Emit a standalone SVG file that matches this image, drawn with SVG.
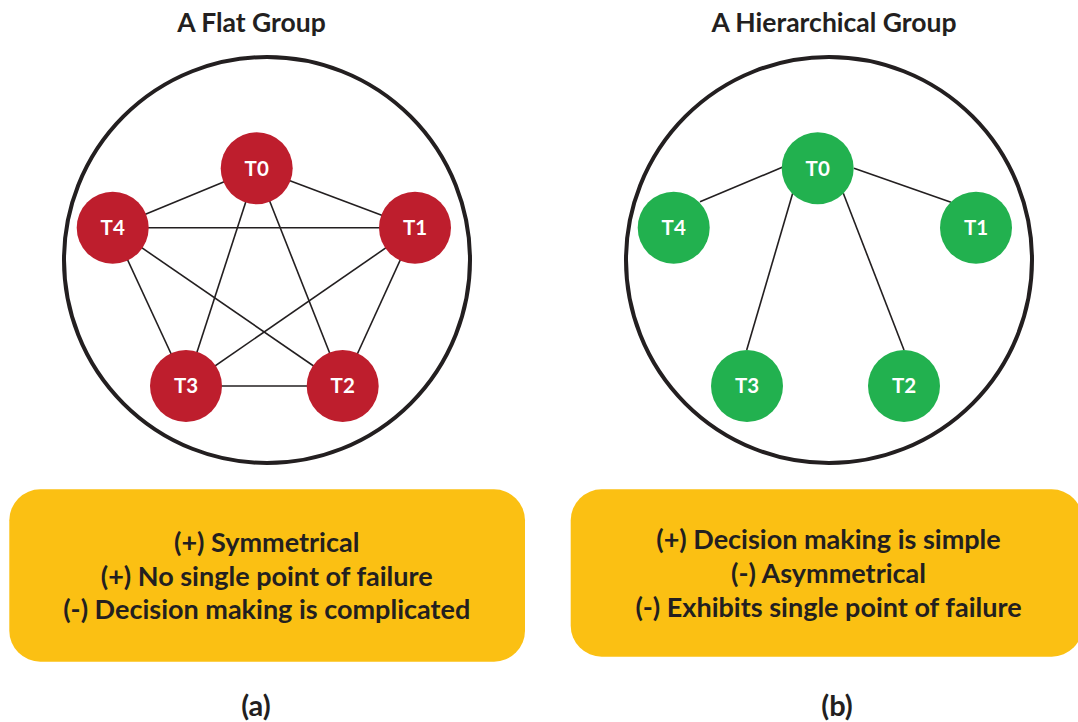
<svg xmlns="http://www.w3.org/2000/svg" width="1078" height="722" viewBox="0 0 1078 722">
  <style>
    .title { font-family: Lato, "Open Sans", sans-serif; font-weight: 700; font-size: 26.5px; fill: #231f20; text-anchor: middle; }
    .boundary { fill: none; stroke: #231f20; stroke-width: 4; }
    .edge { stroke: #231f20; stroke-width: 1.6; fill: none; }
    .flat { fill: #be1e2d; }
    .hier { fill: #22b14f; }
    .tag { font-family: Lato, "Open Sans", sans-serif; font-weight: 700; font-size: 20.5px; fill: #ffffff; text-anchor: middle; }
    .note { fill: #fbc013; }
    .notetxt { font-family: Lato, "Open Sans", sans-serif; font-weight: 700; font-size: 27px; fill: #231f20; text-anchor: middle; }
    .cap { font-family: Lato, "Open Sans", sans-serif; font-weight: 700; font-size: 29px; fill: #231f20; text-anchor: middle; }
  </style>

  <rect width="1078" height="722" fill="#ffffff"/>

  <!-- headings -->
  <text class="title" x="251.5" y="32.3">A Flat Group</text>
  <text class="title" x="834" y="32.3">A Hierarchical Group</text>

  <!-- group boundaries -->
  <circle class="boundary" cx="267" cy="260" r="203"/>
  <circle class="boundary" cx="829" cy="260" r="203"/>

  <!-- connectors -->
  <g id="connectors">
    <!-- flat group: every member linked to every other -->
    <line class="edge" x1="256.7" y1="168.3" x2="112.7" y2="227.7"/>
    <line class="edge" x1="256.7" y1="168.3" x2="415" y2="227.7"/>
    <line class="edge" x1="256.7" y1="168.3" x2="186" y2="386"/>
    <line class="edge" x1="256.7" y1="168.3" x2="342.7" y2="386"/>
    <line class="edge" x1="112.7" y1="227.7" x2="415" y2="227.7"/>
    <line class="edge" x1="112.7" y1="227.7" x2="186" y2="386"/>
    <line class="edge" x1="112.7" y1="227.7" x2="342.7" y2="386"/>
    <line class="edge" x1="415" y1="227.7" x2="186" y2="386"/>
    <line class="edge" x1="415" y1="227.7" x2="342.7" y2="386"/>
    <line class="edge" x1="186" y1="386" x2="342.7" y2="386"/>
    <!-- hierarchical group: coordinator T0 to each worker -->
    <line class="edge" x1="782.3" y1="167.3" x2="700" y2="201.7"/>
    <line class="edge" x1="854" y1="168.3" x2="951" y2="202.3"/>
    <line class="edge" x1="792.7" y1="193.3" x2="746.7" y2="350"/>
    <line class="edge" x1="843.3" y1="193.3" x2="904" y2="350"/>
  </g>

  <!-- flat group members -->
  <g id="flat-T0"><circle class="flat" cx="256.7" cy="168.3" r="36"/><text class="tag" x="256.7" y="175.7">T0</text></g>
  <g id="flat-T1"><circle class="flat" cx="415" cy="227.7" r="36"/><text class="tag" x="415" y="235.1">T1</text></g>
  <g id="flat-T2"><circle class="flat" cx="342.7" cy="386" r="36"/><text class="tag" x="342.7" y="393.4">T2</text></g>
  <g id="flat-T3"><circle class="flat" cx="186" cy="386" r="36"/><text class="tag" x="186" y="393.4">T3</text></g>
  <g id="flat-T4"><circle class="flat" cx="112.7" cy="227.7" r="36"/><text class="tag" x="112.7" y="235.1">T4</text></g>

  <!-- hierarchical group members -->
  <g id="hier-T0"><circle class="hier" cx="817.7" cy="168.3" r="36"/><text class="tag" x="817.7" y="175.7">T0</text></g>
  <g id="hier-T1"><circle class="hier" cx="976" cy="227.7" r="36"/><text class="tag" x="976" y="235.1">T1</text></g>
  <g id="hier-T2"><circle class="hier" cx="904" cy="386" r="36"/><text class="tag" x="904" y="393.4">T2</text></g>
  <g id="hier-T3"><circle class="hier" cx="747" cy="386" r="36"/><text class="tag" x="747" y="393.4">T3</text></g>
  <g id="hier-T4"><circle class="hier" cx="673.7" cy="227.7" r="36"/><text class="tag" x="673.7" y="235.1">T4</text></g>

  <!-- pros / cons panels -->
  <g id="flat-notes">
    <rect class="note" x="9.3" y="489.3" width="515.7" height="172.4" rx="31"/>
    <text class="notetxt" x="266.7" y="551.7">(+) Symmetrical</text>
    <text class="notetxt" x="266.7" y="586">(+) No single point of failure</text>
    <text class="notetxt" x="266.7" y="619.3">(-) Decision making is complicated</text>
  </g>
  <g id="hier-notes">
    <rect class="note" x="570.7" y="489.3" width="512" height="167.4" rx="31"/>
    <text class="notetxt" x="828.5" y="549">(+) Decision making is simple</text>
    <text class="notetxt" x="828.5" y="583.3">(-) Asymmetrical</text>
    <text class="notetxt" x="828.5" y="616.7">(-) Exhibits single point of failure</text>
  </g>

  <!-- captions -->
  <text class="cap" x="256" y="716">(a)</text>
  <text class="cap" x="837" y="716">(b)</text>
</svg>
